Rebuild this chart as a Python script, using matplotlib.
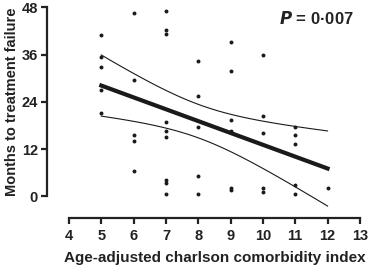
import numpy as np
import matplotlib
matplotlib.use('Agg')
import matplotlib.pyplot as plt

plt.rcParams['font.family'] = ['Liberation Sans', 'DejaVu Sans']
plt.rcParams['font.weight'] = 'bold'

# age-adjusted charlson index (x) and months to treatment failure (y)
cci = [5, 5, 5, 5, 5,
       6, 6, 6, 6, 6,
       7, 7, 7, 7, 7, 7, 7, 7, 7,
       8, 8, 8, 8, 8,
       9, 9, 9, 9, 9, 9,
       10, 10, 10, 10, 10,
       11, 11, 11, 11, 11,
       12]
months = [41.1, 35.5, 32.8, 27.0, 21.1,
          46.5, 29.6, 15.6, 14.1, 6.5,
          47.0, 42.3, 41.2, 18.8, 16.5, 15.2, 4.1, 3.5, 0.6,
          34.3, 25.6, 17.5, 5.2, 0.6,
          39.2, 31.9, 19.3, 16.6, 2.1, 1.6,
          35.9, 20.4, 16.1, 2.2, 1.0,
          17.7, 15.6, 13.4, 2.9, 0.5,
          2.2]
x_ticks = [4, 5, 6, 7, 8, 9, 10, 11, 12, 13]
y_ticks = [0, 12, 24, 36, 48]
p_label = '0·007'

x = np.array(cci, dtype=float)
y = np.array(months)

# linear fit with 95% confidence band of the mean
n = len(x)
slope, intercept = np.polyfit(x, y, 1)
resid = y - (slope * x + intercept)
s = np.sqrt(np.sum(resid ** 2) / (n - 2))
xx = np.linspace(x.min(), x.max(), 100)
fit = slope * xx + intercept
se = s * np.sqrt(1 / n + (xx - x.mean()) ** 2 / np.sum((x - x.mean()) ** 2))
t = 2.023  # t(0.975, 39)

fig = plt.figure(figsize=(3.73, 2.68), dpi=100)
ax = fig.add_axes([0.126, 0.187, 0.844, 0.787])

ax.scatter(x, y, s=8, color='#1a1a1a', zorder=3, linewidths=0)
ax.plot(xx, fit, color='#1a1a1a', lw=3)
ax.plot(xx, fit + t * se, color='#1a1a1a', lw=0.8)
ax.plot(xx, fit - t * se, color='#1a1a1a', lw=0.8)

xlim = (3.32, 13.06)
ylim = (-5.46, 48.1)
ax.set_xlim(*xlim)
ax.set_ylim(*ylim)
ax.set_xticks(x_ticks)
ax.set_yticks(y_ticks)
ax.spines['top'].set_visible(False)
ax.spines['right'].set_visible(False)
ax.spines['left'].set_bounds(0, 48)
ax.spines['bottom'].set_bounds(4, 13)
for sp in ('left', 'bottom'):
    ax.spines[sp].set_linewidth(1.6)
    ax.spines[sp].set_color('#222222')
ax.tick_params(width=1.6, length=4, labelsize=10.5, color='#222222', labelcolor='#222222', pad=2.5)
ax.tick_params(axis='x', pad=4)

ax.set_xlabel('Age-adjusted charlson comorbidity index', fontsize=11, fontweight='bold', color='#222222', labelpad=6)
ax.set_ylabel('Months to treatment failure', fontsize=10.5, fontweight='bold', color='#222222', labelpad=2)
# labels centred on the (shortened) spines
ax.xaxis.label.set_x((8.5 - xlim[0]) / (xlim[1] - xlim[0]))
ax.yaxis.label.set_y((24 - ylim[0]) / (ylim[1] - ylim[0]))

ax.text(0.975, 0.985, r'$\mathbfit{P}$ = ' + p_label, transform=ax.transAxes,
        ha='right', va='top', fontsize=12, fontweight='bold', color='#222222')

fig.savefig('out.png', dpi=100)
